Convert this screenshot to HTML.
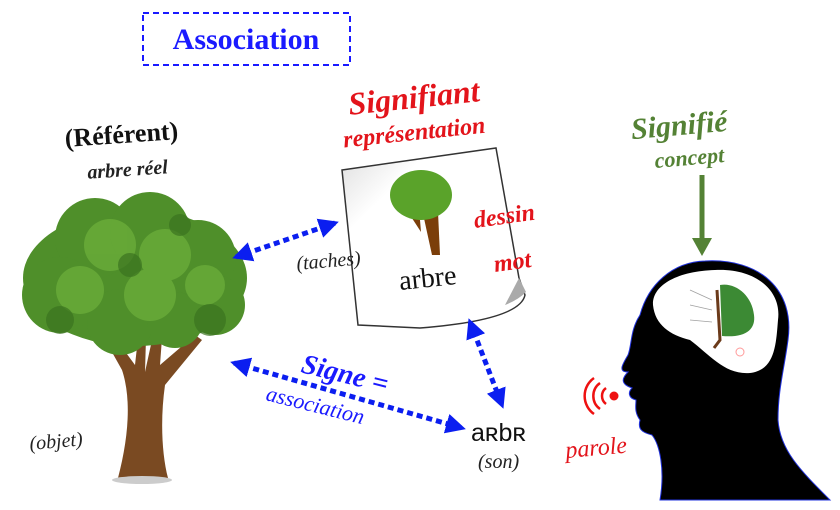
<!DOCTYPE html>
<html><head><meta charset="utf-8"><style>
body{margin:0;background:#fff;width:840px;height:510px;overflow:hidden}
svg{display:block}
text{font-family:"Liberation Serif",serif;font-weight:bold;font-style:italic}
</style></head><body>
<svg width="840" height="510" viewBox="0 0 840 510" xmlns="http://www.w3.org/2000/svg">
<defs>
<marker id="ah" viewBox="0 0 10 10" refX="8" refY="5" markerWidth="4" markerHeight="4" orient="auto-start-reverse"><path d="M0,0L10,5L0,10z" fill="#0b1ef0"/></marker>
<linearGradient id="pg" x1="0" y1="0" x2="1" y2="1"><stop offset="0" stop-color="#ddd"/><stop offset="0.25" stop-color="#fff"/></linearGradient>
</defs>
<rect x="143" y="13" width="207" height="52" fill="none" stroke="#1a1aff" stroke-width="2" stroke-dasharray="6 4"/>
<text x="246" y="49" text-anchor="middle" font-size="30" fill="#1a1aff" style="font-style:normal">Association</text>

<text x="122" y="143" text-anchor="middle" font-size="26" fill="#111" style="font-style:normal" transform="rotate(-4 122 143)">(Référent)</text>
<text x="128" y="176" text-anchor="middle" font-size="20" fill="#222" transform="rotate(-4 128 176)">arbre réel</text>

<g>
<path d="M118,478 C128,440 132,400 122,370 L108,345 L118,342 L135,365 L138,338 L146,338 L145,372 L152,340 L162,338 L160,365 L195,335 L202,340 L165,385 C160,420 162,455 168,478 Z" fill="#7a4a22"/>
<ellipse cx="142" cy="480" rx="30" ry="4" fill="#ccc"/>
<g fill="#4f8f2a">
<ellipse cx="135" cy="278" rx="112" ry="68"/>
<circle cx="95" cy="238" r="40"/><circle cx="150" cy="232" r="40"/><circle cx="198" cy="258" r="38"/>
<circle cx="60" cy="295" r="38"/><circle cx="215" cy="305" r="30"/><circle cx="120" cy="322" r="33"/><circle cx="175" cy="320" r="28"/>
</g>
<g fill="#6aac3a" opacity="0.8">
<circle cx="110" cy="245" r="26"/><circle cx="165" cy="255" r="26"/><circle cx="80" cy="290" r="24"/><circle cx="150" cy="295" r="26"/><circle cx="205" cy="285" r="20"/>
</g>
<g fill="#3b7320" opacity="0.7">
<circle cx="60" cy="320" r="14"/><circle cx="210" cy="320" r="16"/><circle cx="130" cy="265" r="12"/><circle cx="180" cy="225" r="11"/>
</g>
</g>
<text x="30" y="450" font-size="20" fill="#222" style="font-weight:normal" transform="rotate(-5 30 450)">(objet)</text>

<text x="415" y="108" text-anchor="middle" font-size="32" fill="#e3141b" transform="rotate(-6 415 108)">Signifiant</text>
<text x="415" y="140" text-anchor="middle" font-size="24" fill="#e3141b" transform="rotate(-6 415 140)">représentation</text>

<path d="M342,170 L496,148 L519,278 L525,295 Q520,320 420,328 L358,325 Z" fill="url(#pg)" stroke="#333" stroke-width="1.5"/>
<path d="M519,278 L526,292 Q518,300 505,305 Z" fill="#aaa"/>
<path d="M420,200 L432,255 L440,255 L438,212 Z" fill="#7b3e0a"/>
<path d="M420,220 L408,212 L421,232 Z" fill="#7b3e0a"/>
<ellipse cx="421" cy="195" rx="31" ry="25" fill="#5aa32a"/>
<text x="400" y="290" font-size="28" fill="#111" style="font-style:normal;font-weight:normal" transform="rotate(-6 400 290)">arbre</text>
<text x="475" y="228" font-size="24" fill="#e3141b" transform="rotate(-8 475 228)">dessin</text>
<text x="495" y="272" font-size="24" fill="#e3141b" transform="rotate(-8 495 272)">mot</text>
<text x="297" y="270" font-size="20" fill="#222" style="font-weight:normal" transform="rotate(-5 297 270)">(taches)</text>

<g stroke="#0b1ef0" stroke-width="5" stroke-dasharray="6 4" fill="none">
<line x1="236" y1="257" x2="335" y2="223" marker-start="url(#ah)" marker-end="url(#ah)"/>
<line x1="234" y1="363" x2="462" y2="428" marker-start="url(#ah)" marker-end="url(#ah)"/>
<line x1="470" y1="322" x2="502" y2="405" marker-start="url(#ah)" marker-end="url(#ah)"/>
</g>
<text x="300" y="372" font-size="28" fill="#1a1aff" transform="rotate(14 300 372)">Signe =</text>
<text x="265" y="400" font-size="22" fill="#1a1aff" style="font-weight:normal" transform="rotate(14 265 400)">association</text>
<text x="471" y="441" font-size="25" fill="#111" style="font-family:'Liberation Sans',sans-serif;font-style:normal;font-weight:normal">aʀbʀ</text>
<text x="478" y="468" font-size="20" fill="#222" style="font-weight:normal">(son)</text>

<text x="680" y="135" text-anchor="middle" font-size="30" fill="#548235" transform="rotate(-5 680 135)">Signifié</text>
<text x="690" y="165" text-anchor="middle" font-size="22" fill="#548235" transform="rotate(-5 690 165)">concept</text>
<line x1="702" y1="175" x2="702" y2="240" stroke="#548235" stroke-width="5"/>
<path d="M692,238 L712,238 L702,256 Z" fill="#548235"/>

<path d="M705,261 C760,258 795,290 788,340 C784,370 778,390 778,420 C780,450 800,470 830,500 L660,500 C665,470 660,445 652,435 C640,432 638,428 640,420 C634,412 636,405 636,400 C628,398 628,392 632,388 C620,384 622,378 628,372 C618,372 622,365 628,355 C632,345 630,330 640,315 C648,285 672,262 705,261 Z" fill="#000" stroke="#2233dd" stroke-width="1"/>
<path d="M715,270 C755,268 782,290 778,320 C776,345 775,370 750,373 C725,375 710,355 690,340 C670,335 655,325 653,305 C652,285 678,271 715,270 Z" fill="#fff"/>
<path d="M717,290 L720,340 L714,348" stroke="#6b3a1a" stroke-width="3" fill="none"/>
<path d="M720,285 C735,282 752,295 754,315 C756,330 745,338 722,336 Z" fill="#3c8a34"/>
<g stroke="#a0a0a0" stroke-width="0.8"><line x1="690" y1="290" x2="712" y2="300"/><line x1="690" y1="305" x2="712" y2="310"/><line x1="690" y1="320" x2="712" y2="322"/></g>
<circle cx="740" cy="352" r="4" fill="none" stroke="#f99"/>
<circle cx="614" cy="396" r="4.5" fill="#ee1111"/>
<g fill="none" stroke="#ee1111" stroke-width="2.5">
<path d="M606,388 A10,10 0 0 0 606,404"/><path d="M600,383 A16,16 0 0 0 600,409"/><path d="M594,378 A22,22 0 0 0 594,414"/>
</g>
<text x="566" y="458" font-size="24" fill="#e3141b" style="font-weight:normal" transform="rotate(-5 566 458)">parole</text>
</svg>
</body></html>
